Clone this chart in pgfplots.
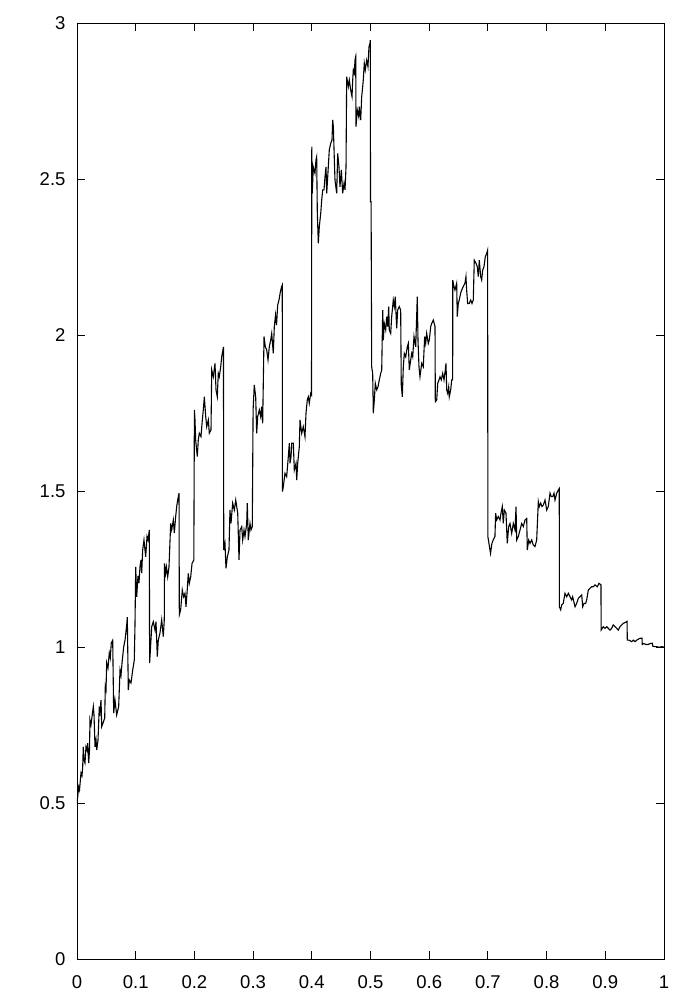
\documentclass[border=0pt]{standalone}
\usepackage{pgfplots}
\pgfplotsset{compat=1.18}
\usepackage{pgfplotstable}
\usepackage{fontspec}
\setmainfont{Liberation Sans}
\pgfplotstableread{
x y
0 0.500
0.0012 0.520
0.0029 0.552
0.0043 0.542
0.0068 0.596
0.0085 0.587
0.0097 0.616
0.0107 0.680
0.0119 0.638
0.0136 0.628
0.0153 0.680
0.0170 0.670
0.0182 0.692
0.0199 0.628
0.0213 0.670
0.0221 0.766
0.0238 0.750
0.0256 0.777
0.0278 0.809
0.0290 0.782
0.0307 0.680
0.0324 0.702
0.0336 0.670
0.0358 0.702
0.0380 0.809
0.0392 0.792
0.0409 0.830
0.0421 0.745
0.0443 0.756
0.0472 0.772
0.0482 0.873
0.0494 0.862
0.0506 0.949
0.0528 0.933
0.0550 0.981
0.0567 0.965
0.0584 1.013
0.0608 1.022
0.0625 0.788
0.0647 0.830
0.0676 0.782
0.0710 0.809
0.0733 0.926
0.0750 0.910
0.0767 0.949
0.0796 1.001
0.0818 1.022
0.0847 1.071
0.0857 1.096
0.0874 0.862
0.0891 0.894
0.0920 0.885
0.0949 0.926
0.0976 0.958
0.0988 1.071
0.1000 1.257
0.1017 1.161
0.1039 1.228
0.1056 1.205
0.1073 1.257
0.1090 1.279
0.1102 1.237
0.1119 1.311
0.1141 1.343
0.1170 1.289
0.1193 1.354
0.1210 1.343
0.1232 1.375
0.1237 0.948
0.1273 1.065
0.1300 1.081
0.1329 1.054
0.1346 1.081
0.1368 0.969
0.1385 1.022
0.1414 1.045
0.1443 1.087
0.1470 1.033
0.1487 1.087
0.1491 1.268
0.1511 1.236
0.1525 1.256
0.1545 1.225
0.1567 1.256
0.1596 1.396
0.1613 1.375
0.1641 1.407
0.1658 1.365
0.1681 1.418
0.1698 1.450
0.1715 1.471
0.1738 1.493
0.1743 1.103
0.1766 1.119
0.1794 1.183
0.1817 1.161
0.1840 1.172
0.1857 1.129
0.1874 1.172
0.1896 1.236
0.1913 1.204
0.1937 1.225
0.1960 1.268
0.1990 1.279
0.2000 1.760
0.2010 1.728
0.2022 1.663
0.2049 1.610
0.2066 1.663
0.2083 1.685
0.2112 1.674
0.2135 1.728
0.2152 1.760
0.2169 1.802
0.2193 1.738
0.2210 1.706
0.2237 1.728
0.2254 1.685
0.2283 1.696
0.2295 1.888
0.2322 1.866
0.2351 1.909
0.2368 1.824
0.2390 1.802
0.2407 1.877
0.2424 1.866
0.2448 1.898
0.2465 1.930
0.2495 1.962
0.2500 1.311
0.2521 1.332
0.2538 1.252
0.2561 1.289
0.2589 1.311
0.2606 1.439
0.2623 1.396
0.2652 1.461
0.2680 1.439
0.2704 1.471
0.2721 1.450
0.2738 1.429
0.2760 1.279
0.2777 1.375
0.2806 1.386
0.2823 1.343
0.2845 1.375
0.2862 1.354
0.2891 1.396
0.2901 1.461
0.2918 1.343
0.2947 1.396
0.2964 1.375
0.2986 1.386
0.3000 1.760
0.3020 1.840
0.3044 1.802
0.3061 1.685
0.3078 1.738
0.3106 1.760
0.3129 1.738
0.3146 1.770
0.3163 1.717
0.3186 1.995
0.3208 1.962
0.3232 1.952
0.3254 1.920
0.3276 1.962
0.3300 1.984
0.3317 2.005
0.3344 1.941
0.3361 2.026
0.3382 2.064
0.3399 2.032
0.3419 2.096
0.3441 2.112
0.3464 2.138
0.3484 2.154
0.3497 2.160
0.3500 1.498
0.3515 1.514
0.3543 1.557
0.3572 1.546
0.3600 1.610
0.3617 1.653
0.3629 1.589
0.3646 1.610
0.3658 1.653
0.3685 1.653
0.3702 1.567
0.3731 1.589
0.3743 1.535
0.3760 1.589
0.3787 1.642
0.3799 1.728
0.3828 1.685
0.3855 1.706
0.3884 1.674
0.3901 1.749
0.3923 1.792
0.3940 1.802
0.3957 1.781
0.3981 1.813
0.3995 1.808
0.4000 2.604
0.4008 2.454
0.4025 2.539
0.4054 2.518
0.4071 2.561
0.4083 2.571
0.4094 2.390
0.4111 2.294
0.4128 2.347
0.4152 2.390
0.4169 2.433
0.4186 2.465
0.4208 2.465
0.4225 2.507
0.4242 2.539
0.4254 2.454
0.4271 2.507
0.4298 2.593
0.4322 2.614
0.4344 2.625
0.4356 2.689
0.4367 2.668
0.4384 2.561
0.4395 2.497
0.4424 2.454
0.4441 2.582
0.4463 2.539
0.4480 2.475
0.4503 2.529
0.4526 2.454
0.4549 2.486
0.4566 2.465
0.4583 2.539
0.4594 2.828
0.4622 2.796
0.4639 2.817
0.4663 2.785
0.4685 2.764
0.4697 2.817
0.4707 2.849
0.4724 2.839
0.4736 2.881
0.4748 2.892
0.4753 2.668
0.4775 2.721
0.4799 2.700
0.4809 2.732
0.4833 2.689
0.4850 2.764
0.4867 2.796
0.4877 2.817
0.4894 2.871
0.4911 2.849
0.4935 2.881
0.4957 2.860
0.4974 2.924
0.4991 2.935
0.4997 2.945
0.5000 2.427
0.5010 2.427
0.5020 1.898
0.5037 1.877
0.5048 1.749
0.5065 1.792
0.5082 1.845
0.5106 1.824
0.5128 1.834
0.5150 1.856
0.5174 1.877
0.5191 1.888
0.5208 2.080
0.5218 1.984
0.5235 2.037
0.5259 2.016
0.5276 2.059
0.5293 2.027
0.5310 2.091
0.5320 2.016
0.5344 2.005
0.5361 2.059
0.5388 2.112
0.5405 2.091
0.5422 2.123
0.5446 2.021
0.5463 2.080
0.5490 2.091
0.5514 2.080
0.5524 1.840
0.5542 1.802
0.5559 1.898
0.5576 1.941
0.5600 1.930
0.5627 1.962
0.5644 1.973
0.5661 1.888
0.5685 1.920
0.5702 1.941
0.5719 1.930
0.5741 1.995
0.5770 1.962
0.5797 2.123
0.5809 1.984
0.5826 1.898
0.5843 1.866
0.5872 1.909
0.5899 1.898
0.5923 1.995
0.5940 1.973
0.5957 2.005
0.5985 1.973
0.6002 1.984
0.6026 2.027
0.6043 2.037
0.6070 2.048
0.6099 2.027
0.6104 1.786
0.6128 1.792
0.6145 1.845
0.6167 1.856
0.6184 1.866
0.6206 1.856
0.6230 1.877
0.6252 1.856
0.6274 1.888
0.6286 1.909
0.6298 1.824
0.6315 1.813
0.6332 1.834
0.6342 1.802
0.6366 1.824
0.6383 1.856
0.6400 1.856
0.6401 2.176
0.6422 2.155
0.6439 2.144
0.6468 2.166
0.6478 2.059
0.6495 2.101
0.6512 2.112
0.6536 2.134
0.6553 2.144
0.6580 2.155
0.6609 2.166
0.6626 2.187
0.6638 2.144
0.6655 2.101
0.6683 2.101
0.6706 2.112
0.6729 2.101
0.6751 2.112
0.6768 2.240
0.6797 2.230
0.6819 2.219
0.6836 2.187
0.6853 2.240
0.6877 2.187
0.6894 2.176
0.6911 2.208
0.6933 2.219
0.6956 2.251
0.6980 2.262
0.6995 2.272
0.7000 1.353
0.7045 1.300
0.7068 1.332
0.7091 1.343
0.7120 1.354
0.7132 1.429
0.7149 1.407
0.7177 1.418
0.7206 1.407
0.7223 1.429
0.7245 1.450
0.7262 1.396
0.7279 1.439
0.7308 1.429
0.7330 1.332
0.7354 1.386
0.7376 1.396
0.7405 1.364
0.7433 1.396
0.7462 1.375
0.7479 1.450
0.7491 1.343
0.7518 1.354
0.7547 1.375
0.7576 1.396
0.7603 1.386
0.7632 1.407
0.7661 1.412
0.7671 1.311
0.7695 1.343
0.7717 1.332
0.7746 1.343
0.7773 1.327
0.7802 1.322
0.7831 1.343
0.7859 1.466
0.7876 1.450
0.7899 1.461
0.7922 1.450
0.7944 1.455
0.7973 1.471
0.8002 1.439
0.8029 1.450
0.8058 1.493
0.8080 1.482
0.8104 1.482
0.8126 1.493
0.8143 1.471
0.8172 1.493
0.8199 1.503
0.8216 1.508
0.8217 1.129
0.8240 1.119
0.8257 1.135
0.8284 1.140
0.8313 1.172
0.8342 1.161
0.8370 1.172
0.8399 1.161
0.8427 1.151
0.8444 1.161
0.8484 1.129
0.8513 1.140
0.8540 1.156
0.8569 1.161
0.8598 1.167
0.8615 1.129
0.8637 1.140
0.8666 1.140
0.8683 1.151
0.8711 1.183
0.8739 1.188
0.8768 1.193
0.8796 1.193
0.8824 1.199
0.8864 1.193
0.8893 1.204
0.8927 1.199
0.8928 1.054
0.8966 1.065
0.8995 1.060
0.9024 1.065
0.9051 1.060
0.9080 1.054
0.9109 1.060
0.9136 1.071
0.9165 1.065
0.9194 1.060
0.9221 1.054
0.9250 1.065
0.9279 1.071
0.9307 1.076
0.9335 1.078
0.9370 1.082
0.9375 1.022
0.9404 1.022
0.9450 1.017
0.9477 1.022
0.9506 1.017
0.9535 1.022
0.9562 1.025
0.9591 1.028
0.9625 1.028
0.9630 1.008
0.9659 1.011
0.9693 1.008
0.9732 1.008
0.9761 1.011
0.9800 1.012
0.9807 1.003
0.9847 1.001
0.9881 1.001
0.9920 0.999
0.9957 1.001
1.0000 1.000
}\curvedata
\begin{document}
\begin{tikzpicture}
\begin{axis}[
  scale only axis,
  width=587pt, height=936pt,
  xmin=0, xmax=1, ymin=0, ymax=3,
  xtick={0,0.1,...,1.0001},
  ytick={0,0.5,...,3},
  xticklabels={0,0.1,0.2,0.3,0.4,0.5,0.6,0.7,0.8,0.9,1},
  yticklabels={0,0.5,1,1.5,2,2.5,3},
  tick align=inside,
  xtick pos=both, ytick pos=both,
  major tick length=8pt,
  tick style={black, line width=0.9pt},
  axis line style={black, line width=0.9pt},
  tick label style={font=\fontsize{18.5}{18.5}\selectfont},
  xticklabel style={yshift=-13pt},
  yticklabel style={xshift=-8pt},
  /pgf/number format/assume math mode=true,
]
\addplot[black, line width=1.1pt, line join=miter] table[x=x,y=y] {\curvedata};
\end{axis}
\pgfresetboundingbox
\path[use as bounding box] ([xshift=-77pt,yshift=-41pt]current axis.south west) rectangle ([xshift=36pt,yshift=23pt]current axis.north east);
\end{tikzpicture}
\end{document}
